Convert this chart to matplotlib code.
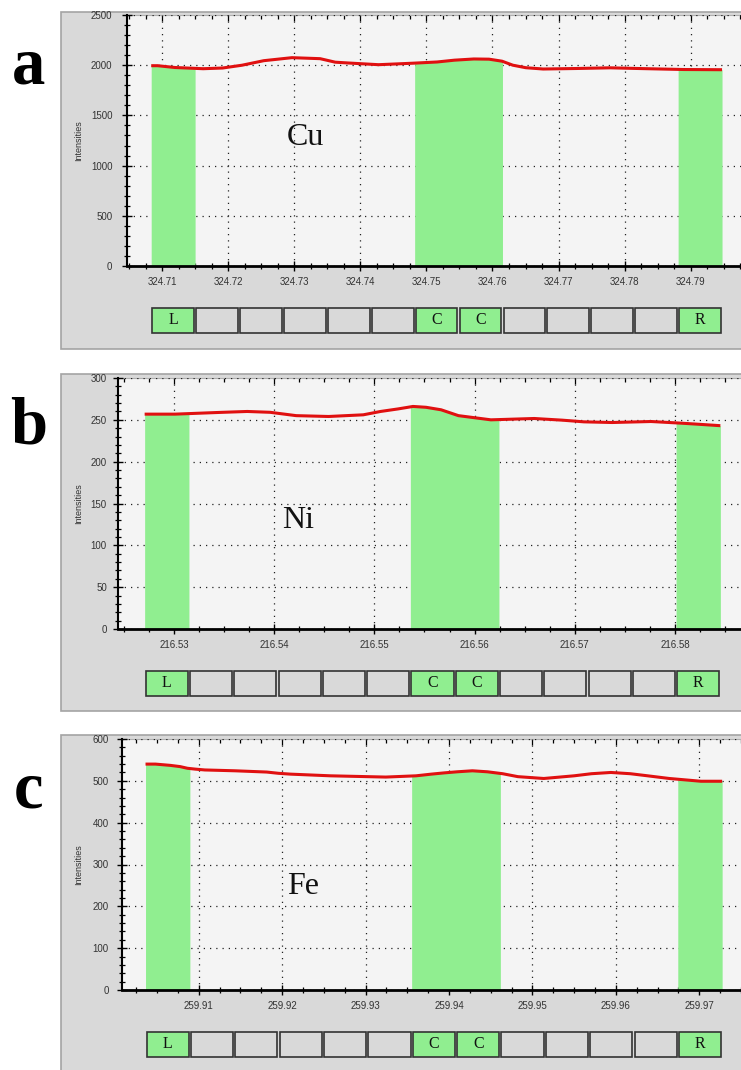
import numpy as np
import matplotlib
matplotlib.use("Agg")
import matplotlib.pyplot as plt
from matplotlib.patches import Rectangle
from matplotlib.ticker import AutoMinorLocator, FormatStrFormatter
from matplotlib.transforms import blended_transform_factory

# ---------------------------------------------------------------- data
cu_wl = [324.70836, 324.70934, 324.71197, 324.71623, 324.71917, 324.72212,
         324.72540, 324.72966, 324.73392, 324.73621, 324.73818, 324.74277,
         324.74801, 324.75161, 324.75423, 324.75718, 324.75948, 324.76144,
         324.76308, 324.76504, 324.76767, 324.77258, 324.77782, 324.78208,
         324.78896, 324.79473]
cu_int = [1995, 1995, 1977, 1965, 1972, 2000, 2045, 2075, 2065, 2030, 2022,
          2005, 2020, 2032, 2050, 2062, 2060, 2040, 2000, 1975, 1962, 1967,
          1974, 1967, 1957, 1955]

ni_wl = [216.52706, 216.53009, 216.53441, 216.53730, 216.53959, 216.54089,
         216.54219, 216.54543, 216.54889, 216.55061, 216.55234, 216.55385,
         216.55515, 216.55666, 216.55839, 216.56163, 216.56595, 216.56876,
         216.57092, 216.57373, 216.57762, 216.58065, 216.58225, 216.58454]
ni_int = [256.8, 256.8, 258.8, 260.0, 259.0, 257.0, 255.0, 254.0, 256.0,
          260.0, 263.0, 266.0, 265.0, 262.0, 255.0, 250.0, 251.6, 249.6,
          247.6, 246.8, 248.0, 246.0, 244.8, 243.0]

fe_wl = [259.90362, 259.90481, 259.90657, 259.90777, 259.90865, 259.90958,
         259.91073, 259.91436, 259.91815, 259.91955, 259.92100, 259.92578,
         259.93242, 259.93605, 259.93787, 259.93942, 259.94098, 259.94280,
         259.94461, 259.94643, 259.94825, 259.95136, 259.95499, 259.95707,
         259.95940, 259.96174, 259.96381, 259.96641, 259.97020, 259.97274]
fe_int = [540, 540, 537, 534, 530, 528, 526, 524, 521, 518, 516, 512, 509,
          512, 516, 519, 521.6, 524, 521.6, 517, 510, 505.6, 512, 517, 520,
          517, 512, 505.6, 499, 499]

# scanned window (first and last pixel of the detector strip)
cu_scan = [324.70836, 324.79473]
ni_scan = [216.52706, 216.58454]
fe_scan = [259.90362, 259.97274]

cu_xticks = [324.71, 324.72, 324.73, 324.74, 324.75, 324.76, 324.77, 324.78, 324.79]
ni_xticks = [216.53, 216.54, 216.55, 216.56, 216.57, 216.58]
fe_xticks = [259.91, 259.92, 259.93, 259.94, 259.95, 259.96, 259.97]

cu_yticks = [0, 500, 1000, 1500, 2000, 2500]
ni_yticks = [0, 50, 100, 150, 200, 250, 300]
fe_yticks = [0, 100, 200, 300, 400, 500, 600]

# pixel roles: L = left background, C = centre (peak), R = right background
pixel_roles = ["L", "", "", "", "", "", "C", "C", "", "", "", "", "R"]

panel_letters = ["a", "b", "c"]
elements = ["Cu", "Ni", "Fe"]

# ---------------------------------------------------------------- layout
W, H = 741, 1070
GREEN = "#90ee90"
PANEL_GRAY = "#d9d9d9"
PLOT_BG = "#f4f4f4"

fig = plt.figure(figsize=(W / 100, H / 100), dpi=100)


def fig_box(left, top, right, bottom):
    return [left / W, 1 - bottom / H, (right - left) / W, (bottom - top) / H]


def role_runs(roles):
    """Contiguous runs of marked pixels as (first, last) index pairs."""
    runs, start = [], None
    for i, r in enumerate(roles + [""]):
        if r and start is None:
            start = i
        elif not r and start is not None:
            runs.append((start, i - 1))
            start = None
    return runs


panels = [
    dict(wl=cu_wl, inten=cu_int, scan=cu_scan, xticks=cu_xticks, yticks=cu_yticks,
         xlim=(324.7047, 324.7976), gray=(12, 349), ax=(127, 15, 266),
         ypad=7.0, letter_y=84, elem_xy=(0.29, 0.512), minor_y=5),
    dict(wl=ni_wl, inten=ni_int, scan=ni_scan, xticks=ni_xticks, yticks=ni_yticks,
         xlim=(216.5244, 216.5866), gray=(374, 711), ax=(118, 378, 629),
         ypad=4.5, letter_y=444, elem_xy=(0.289, 0.434), minor_y=5),
    dict(wl=fe_wl, inten=fe_int, scan=fe_scan, xticks=fe_xticks, yticks=fe_yticks,
         xlim=(259.9008, 259.9750), gray=(735, 1075), ax=(122, 739, 990),
         ypad=6.0, letter_y=807, elem_xy=(0.292, 0.414), minor_y=5),
]

for k, p in enumerate(panels):
    gtop, gbot = p["gray"]
    fig.add_artist(Rectangle((61 / W, 1 - gbot / H), (760 - 61) / W, (gbot - gtop) / H,
                             transform=fig.transFigure, facecolor=PANEL_GRAY,
                             edgecolor="#a4a4a4", lw=1.2, zorder=-1))

    left, top, bottom = p["ax"]
    ax = fig.add_axes(fig_box(left, top, W, bottom), facecolor=PLOT_BG)
    ax.set_xlim(*p["xlim"])
    ax.set_ylim(p["yticks"][0], p["yticks"][-1])

    ax.set_xticks(p["xticks"])
    ax.xaxis.set_major_formatter(FormatStrFormatter("%.2f"))
    ax.set_yticks(p["yticks"])
    ax.xaxis.set_minor_locator(AutoMinorLocator(4))
    ax.yaxis.set_minor_locator(AutoMinorLocator(p["minor_y"]))

    ax.tick_params(which="major", direction="inout", length=7, width=1.0, color="k",
                   labelsize=7, labelcolor="#333333")
    ax.tick_params(which="minor", direction="inout", length=5, width=0.9, color="k")
    ax.tick_params(axis="x", which="major", pad=4.5)
    ax.tick_params(axis="y", which="major", pad=p["ypad"])
    for lab in ax.get_xticklabels() + ax.get_yticklabels():
        lab.set_family("Liberation Sans")

    sec = ax.secondary_xaxis("top")
    sec.set_xticks(p["xticks"])
    sec.xaxis.set_minor_locator(AutoMinorLocator(4))
    sec.tick_params(which="both", direction="in", labeltop=False, color="k", width=0.9)
    sec.tick_params(which="major", length=4)
    sec.tick_params(which="minor", length=3)
    sec.spines["top"].set_color("#b0b0b0")
    sec.spines["top"].set_linewidth(0.8)

    ax.spines["right"].set_visible(False)
    ax.spines["top"].set_visible(False)
    ax.spines["left"].set_linewidth(1.5)
    ax.spines["bottom"].set_linewidth(2.0)

    ax.set_axisbelow(True)
    ax.grid(True, which="major", color="#222222", linestyle=(0, (1, 4)), lw=0.9)

    # detector pixels and integration windows
    x0, x1 = p["scan"]
    w = (x1 - x0) / len(pixel_roles)
    wl = np.asarray(p["wl"])
    inten = np.asarray(p["inten"])
    trans = blended_transform_factory(ax.transData, ax.transAxes)

    for i0, i1 in role_runs(pixel_roles):
        xs = np.linspace(x0 + i0 * w, x0 + (i1 + 1) * w, 120)
        ax.fill_between(xs, 0, np.interp(xs, wl, inten), color=GREEN, lw=0, zorder=2)

    for i, role in enumerate(pixel_roles):
        a = x0 + i * w
        ax.add_patch(Rectangle((a + 0.025 * w, -0.266), 0.95 * w, 0.1, transform=trans,
                               clip_on=False, facecolor=GREEN if role else PANEL_GRAY,
                               edgecolor="#333333", lw=1.2))
        if role:
            ax.text(a + w / 2, -0.214, role, transform=trans, ha="center", va="center",
                    family="Liberation Serif", fontsize=11.5, color="#111111")

    ax.plot(wl, inten, color="#e01010", lw=2.2, solid_capstyle="butt", zorder=3)

    ax.text(*p["elem_xy"], elements[k], transform=ax.transAxes, ha="center", va="center",
            family="Liberation Serif", fontsize=23, color="#111111")

    fig.text(79 / W, 1 - (top + bottom) / 2 / H, "Intensities", rotation=90,
             ha="center", va="center", fontsize=6.5, family="Liberation Sans",
             color="#333333")
    fig.text(29 / W, 1 - p["letter_y"] / H, panel_letters[k], ha="center",
             va="baseline", fontsize=48, fontweight="bold", family="Liberation Serif")

fig.savefig("out.png", dpi=100)
